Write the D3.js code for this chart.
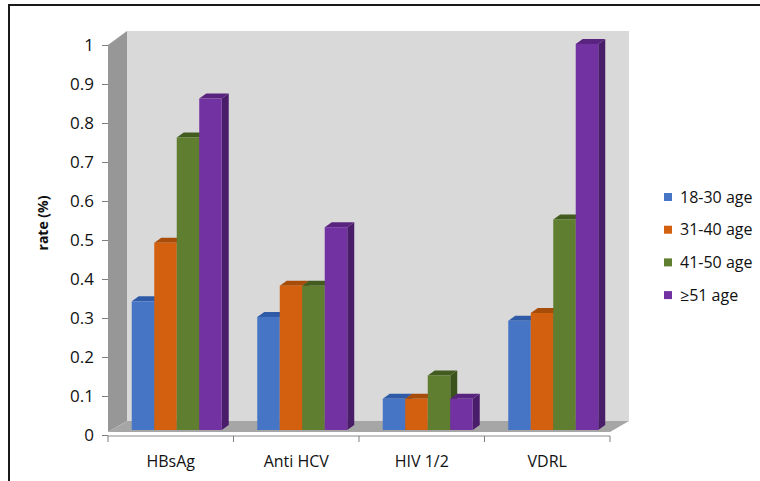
<!DOCTYPE html>
<html>
<head>
<meta charset="utf-8">
<script src="https://cdn.jsdelivr.net/npm/d3@7"></script>
<style>
  body { margin: 0; background: #fff; }
  text { font-family: "Open Sans", sans-serif; fill: #111; }
</style>
</head>
<body>
<div id="chart"></div>
<script>
// data
const categories = ["HBsAg", "Anti HCV", "HIV 1/2", "VDRL"];
const seriesNames = ["18-30 age", "31-40 age", "41-50 age", "\u226551 age"];
const age18_30 = [0.33, 0.29, 0.08, 0.28];
const age31_40 = [0.48, 0.37, 0.08, 0.30];
const age41_50 = [0.75, 0.37, 0.14, 0.54];
const age51up  = [0.85, 0.52, 0.08, 0.99];
const yTicks = [0, 0.1, 0.2, 0.3, 0.4, 0.5, 0.6, 0.7, 0.8, 0.9, 1];

const seriesValues = [age18_30, age31_40, age41_50, age51up];
const frontColors = ["#4675c6", "#d3600f", "#5f7e30", "#7232a2"];
const topColors   = ["#2f5ba6", "#a84c0a", "#425c1f", "#58247f"];
const sideColors  = ["#2c4f8e", "#8f3f07", "#3a521b", "#4a1d6b"];

const W = 760, H = 481;
const svg = d3.select("#chart").append("svg")
    .attr("width", W)
    .attr("height", H);

// outer frame (only top and left edges are visible)
svg.append("path")
    .attr("d", "M9,481 L9,5 L760,5")
    .attr("fill", "none")
    .attr("stroke", "#1a1a1a")
    .attr("stroke-width", 2);

// scales
const x0 = 108, x1 = 610;
const y = d3.scaleLinear().domain([0, 1]).range([435, 45]);
const xCat = d3.scaleBand().domain(categories).range([x0, x1])
    .paddingInner(0.283).paddingOuter(0.1415);
const xSer = d3.scaleBand().domain(d3.range(seriesNames.length))
    .range([0, xCat.bandwidth()]);

// depth of the walls and of the bars
const wall = {dx: 19, dy: -14};
const barOff = {dx: 6, dy: -5};
const barDepth = {dx: 7, dy: -5};

const pts = p => p.map(d => d.join(",")).join(" ");

// back wall
svg.append("polygon")
    .attr("points", pts([[x0 + wall.dx, y(1) + wall.dy], [x1 + wall.dx, y(1) + wall.dy],
                         [x1 + wall.dx, y(0) + wall.dy], [x0 + wall.dx, y(0) + wall.dy]]))
    .attr("fill", "#d9d9d9");

// side wall
svg.append("polygon")
    .attr("points", pts([[x0, y(1)], [x0 + wall.dx, y(1) + wall.dy],
                         [x0 + wall.dx, y(0) + wall.dy], [x0, y(0) - 3]]))
    .attr("fill", "#979797");

// floor
svg.append("polygon")
    .attr("points", pts([[x0, y(0) - 3], [x1, y(0) - 3],
                         [x1 + wall.dx, y(0) + wall.dy], [x0 + wall.dx, y(0) + wall.dy]]))
    .attr("fill", "#a6a6a6");

// bars
const bars = [];
categories.forEach((c, ci) => {
    seriesValues.forEach((vals, si) => {
        bars.push({cat: c, s: si, v: vals[ci]});
    });
});

const barG = svg.append("g");
bars.forEach(b => {
    const xa = xCat(b.cat) + xSer(b.s) + barOff.dx;
    const xb = xa + xSer.bandwidth();
    const yt = y(b.v) + barOff.dy;
    const yb = y(0) + barOff.dy;
    const g = barG.append("g");
    g.append("polygon")
        .attr("points", pts([[xb, yt], [xb + barDepth.dx, yt + barDepth.dy],
                             [xb + barDepth.dx, yb + barDepth.dy], [xb, yb]]))
        .attr("fill", sideColors[b.s]);
    g.append("polygon")
        .attr("points", pts([[xa, yt], [xb, yt], [xb + barDepth.dx, yt + barDepth.dy],
                             [xa + barDepth.dx, yt + barDepth.dy]]))
        .attr("fill", topColors[b.s]);
    g.append("rect")
        .attr("x", xa)
        .attr("y", yt)
        .attr("width", xb - xa)
        .attr("height", yb - yt)
        .attr("fill", frontColors[b.s]);
});

// y axis
const yAxis = svg.append("g")
    .attr("transform", "translate(" + x0 + ",0)")
    .call(d3.axisLeft(y).tickValues(yTicks).tickSize(6).tickPadding(8)
        .tickFormat(d => String(+d.toFixed(1))));
yAxis.select(".domain").remove();
yAxis.selectAll(".tick line").attr("stroke", "#7f7f7f");
yAxis.selectAll(".tick text")
    .style("font-family", "'Open Sans', sans-serif")
    .style("font-size", "17px")
    .attr("fill", "#111");

// x axis
const xAxisY = y(0) + 1;
svg.append("line")
    .attr("x1", x0).attr("x2", x1)
    .attr("y1", xAxisY).attr("y2", xAxisY)
    .attr("stroke", "#8a8a8a");
const bounds = categories.map(c => xCat(c) - xCat.step() * xCat.paddingInner() / 2)
    .concat([x1]);
bounds[0] = x0;
svg.selectAll(".xtick")
    .data(bounds)
    .enter().append("line")
    .attr("x1", d => d).attr("x2", d => d)
    .attr("y1", xAxisY).attr("y2", xAxisY + 6)
    .attr("stroke", "#7f7f7f");
svg.selectAll(".xlabel")
    .data(categories)
    .enter().append("text")
    .attr("x", d => xCat(d) + xCat.bandwidth() / 2)
    .attr("y", 467)
    .attr("text-anchor", "middle")
    .style("font-size", "16px")
    .text(d => d);

// y axis title
svg.append("text")
    .attr("transform", "translate(48,223) rotate(-90)")
    .attr("text-anchor", "middle")
    .style("font-size", "14px")
    .style("font-weight", "bold")
    .text("rate (%)");

// legend
const legend = svg.append("g");
seriesNames.forEach((name, i) => {
    const ly = 197 + i * 32.7;
    legend.append("rect")
        .attr("x", 664).attr("y", ly - 4)
        .attr("width", 8).attr("height", 8)
        .attr("fill", frontColors[i]);
    legend.append("text")
        .attr("x", 680).attr("y", ly)
        .attr("dy", "0.35em")
        .style("font-size", "16px")
        .text(name);
});
</script>
</body>
</html>
